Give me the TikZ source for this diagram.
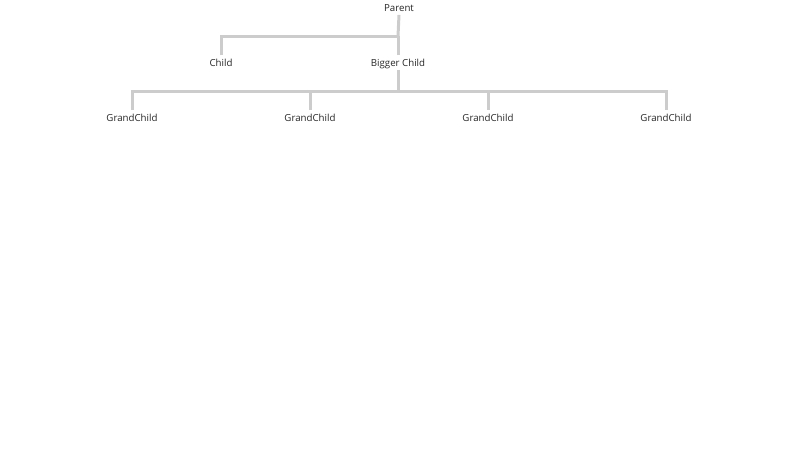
\documentclass[tikz,border=0pt]{standalone}
\usepackage{fontspec}
\setmainfont{Open Sans}
\begin{document}
\begin{tikzpicture}[x=1pt,y=-1pt,
  lbl/.style={font=\fontsize{9.7}{11}\selectfont, text=black!85, inner sep=1.5pt, text height=7.5pt, text depth=2pt},
  conn/.style={draw=black!20, line width=3pt},
  toend/.style={shorten >=2pt},
  fromstart/.style={shorten <=2pt}]
\useasboundingbox (0,0) rectangle (800,450);
\node[lbl] (p) at (399,8.5) {Parent};
\node[lbl] (c) at (221,63.5) {Child};
\node[lbl] (b) at (398,63.5) {Bigger Child};
\node[lbl] (g1) at (132,118.5) {GrandChild};
\node[lbl] (g2) at (310,118.5) {GrandChild};
\node[lbl] (g3) at (488,118.5) {GrandChild};
\node[lbl] (g4) at (666,118.5) {GrandChild};
\coordinate (j1) at (398,36);
\coordinate (j2) at (398,91);
\draw[conn] (p.south) -- (j1);
\draw[conn,fromstart] (c.north) |- (j1);
\draw[conn,fromstart] (b.north) -- (j1);
\draw[conn] (b.south) -- (j2);
\draw[conn,fromstart,toend] (g1.north) |- (j2) -| (g4.north);
\draw[conn,fromstart] (g2.north) -- (g2.north |- j2);
\draw[conn,fromstart] (g3.north) -- (g3.north |- j2);
\end{tikzpicture}
\end{document}
